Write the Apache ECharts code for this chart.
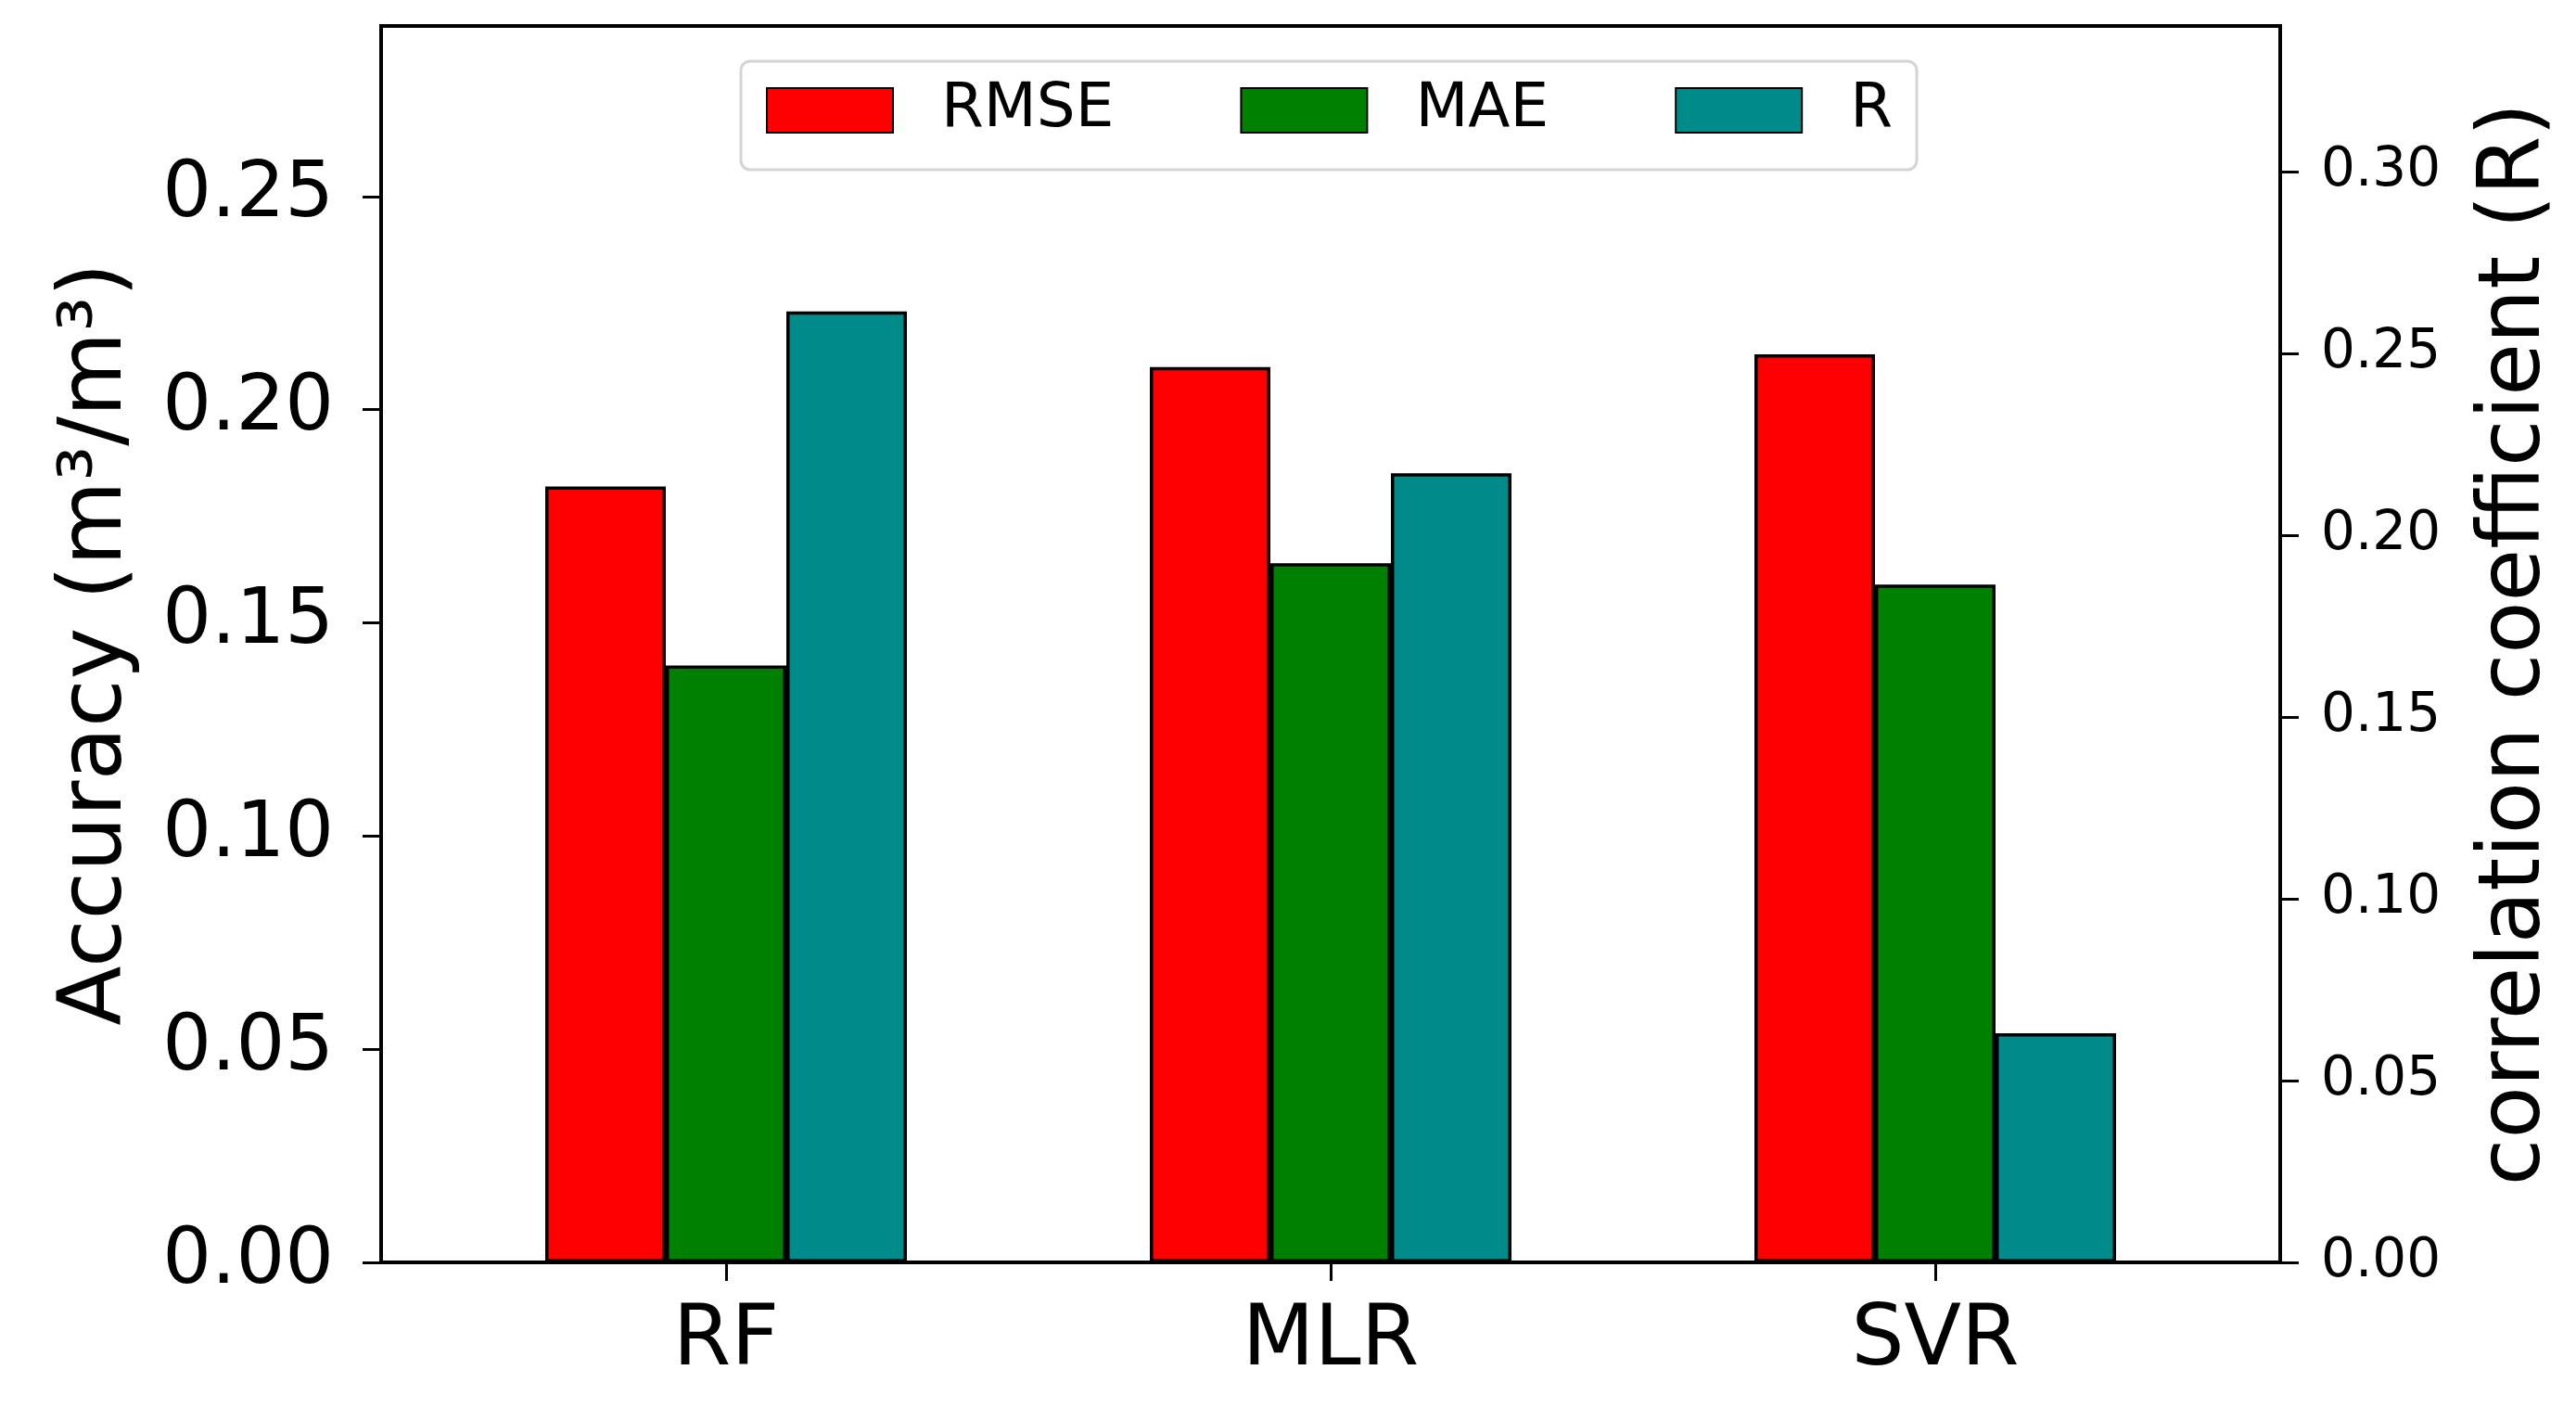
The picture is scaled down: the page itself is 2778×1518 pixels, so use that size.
<!DOCTYPE html>
<html>
<head>
<meta charset="utf-8">
<script src="https://cdn.jsdelivr.net/npm/echarts@6/dist/echarts.min.js"></script>
<style>
html,body{margin:0;padding:0;background:#fff;}
#chart{width:2778px;height:1518px;}
</style>
</head>
<body>
<div id="chart"></div>
<script>
const categories = ['RF', 'MLR', 'SVR'];
const rmseValues = [0.182, 0.210, 0.213];
const maeValues = [0.140, 0.164, 0.159];
const rValues = [0.2615, 0.217, 0.063];
const leftTicks = [0, 0.05, 0.10, 0.15, 0.20, 0.25];
const rightTicks = [0, 0.05, 0.10, 0.15, 0.20, 0.25, 0.30];
const seriesNames = ['RMSE', 'MAE', 'R'];
const seriesColors = ['#ff0000', '#008000', '#008b8b'];

const FONT = 'DejaVu Sans';
const chart = echarts.init(document.getElementById('chart'), null, {renderer: 'canvas'});

const barStyle = (c) => ({color: c, borderColor: '#000', borderWidth: 3.5});

chart.setOption({
  animation: false,
  backgroundColor: '#fff',
  grid: [
    {left: 457, right: 365, top: 28, bottom: 157, show: false},
    {left: 411, right: 319, top: 28, bottom: 157, show: true, borderColor: '#000', borderWidth: 4, backgroundColor: 'transparent', z: 10}
  ],
  legend: {
    data: seriesNames,
    left: 799, top: 66,
    orient: 'horizontal',
    icon: 'rect',
    itemWidth: 136, itemHeight: 48,
    itemGap: 136,
    padding: [20, 26, 31, 27],
    backgroundColor: '#fff',
    borderColor: '#d4d4d4', borderWidth: 3, borderRadius: 10,
    textStyle: {fontFamily: FONT, fontSize: 66, color: '#000', padding: [18, 0, 0, 47]},
    z: 20
  },
  xAxis: [
    {
      type: 'category', data: categories, gridIndex: 0,
      axisLine: {show: false},
      axisTick: {show: true, alignWithLabel: true, length: 20, lineStyle: {color: '#000', width: 3}},
      axisLabel: {fontFamily: FONT, fontSize: 90, color: '#000', margin: 42}
    },
    {type: 'value', gridIndex: 1, show: false, min: 0, max: 1}
  ],
  yAxis: [
    {
      type: 'value', gridIndex: 0, position: 'left', offset: 46,
      min: 0, max: 0.29, interval: 0.05,
      name: 'Accuracy (m³/m³)', nameLocation: 'middle', nameRotate: 90, nameGap: 258,
      nameTextStyle: {fontFamily: FONT, fontSize: 94, color: '#000'},
      axisLine: {show: false},
      splitLine: {show: false},
      axisTick: {show: true, length: 20, lineStyle: {color: '#000', width: 3}, customValues: leftTicks},
      axisLabel: {fontFamily: FONT, fontSize: 83, color: '#000', margin: 51, customValues: leftTicks,
                  formatter: v => v.toFixed(2)}
    },
    {
      type: 'value', gridIndex: 0, position: 'right', offset: 46,
      min: 0, max: 0.34, interval: 0.05,
      name: 'correlation coefficient (R)', nameLocation: 'middle', nameRotate: 90, nameGap: 209,
      nameTextStyle: {fontFamily: FONT, fontSize: 92, color: '#000'},
      axisLine: {show: false},
      splitLine: {show: false},
      axisTick: {show: true, length: 20, lineStyle: {color: '#000', width: 3}, customValues: rightTicks},
      axisLabel: {fontFamily: FONT, fontSize: 58, color: '#000', margin: 44, customValues: rightTicks,
                  formatter: v => v.toFixed(2)}
    },
    {type: 'value', gridIndex: 1, show: false, min: 0, max: 1}
  ],
  series: [
    {name: seriesNames[0], type: 'bar', xAxisIndex: 0, yAxisIndex: 0, data: rmseValues,
     barWidth: 130, barGap: '0%', itemStyle: barStyle(seriesColors[0])},
    {name: seriesNames[1], type: 'bar', xAxisIndex: 0, yAxisIndex: 0, data: maeValues,
     barWidth: 130, barGap: '0%', itemStyle: barStyle(seriesColors[1])},
    {name: seriesNames[2], type: 'bar', xAxisIndex: 0, yAxisIndex: 1, data: rValues,
     barWidth: 130, barGap: '0%', itemStyle: barStyle(seriesColors[2])}
  ]
});
</script>
</body>
</html>
